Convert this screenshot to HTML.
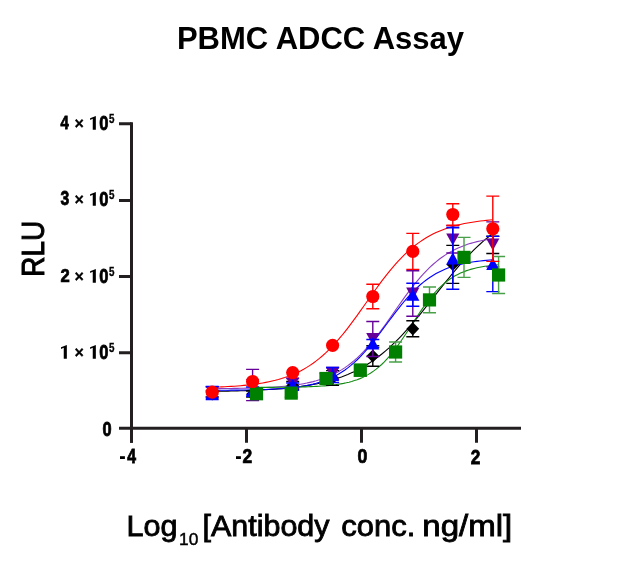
<!DOCTYPE html>
<html><head><meta charset="utf-8">
<style>
html,body{margin:0;padding:0;background:#fff;}
body{width:640px;height:561px;overflow:hidden;position:relative;}
svg{position:absolute;left:0;top:0;will-change:transform;}
.t{font-family:"Liberation Sans",sans-serif;font-weight:bold;fill:#000;}
.r{font-family:"Liberation Sans",sans-serif;font-weight:normal;fill:#000;}
</style></head><body>
<svg width="640" height="561" viewBox="0 0 640 561">
<text class="t" x="320.5" y="48.7" font-size="31" text-anchor="middle">PBMC ADCC Assay</text>
<g stroke="#231f20" stroke-width="3" fill="none">
<path d="M131.5,122.2 V442.8"/>
<path d="M119,428.2 H521"/>
<path d="M119,123.8 H131.5 M119,200.4 H131.5 M119,276.5 H131.5 M119,352.8 H131.5"/>
<path d="M131.5,428.2 V442.8 M246.5,428.2 V442.8 M361.5,428.2 V442.8 M476.5,428.2 V442.8"/>
</g>
<text class="t" transform="translate(60.53,129.38) scale(0.777,1)" font-size="19.06" stroke="#000" stroke-width="0.84">4</text>
<text class="t" transform="translate(74.41,129.26) scale(0.922,1)" font-size="17.35" stroke="#000" stroke-width="0.33">×</text>
<path d="M95.85,115.90 V129.70 H92.75 V118.80 L90.10,120.00 V118.20 Z" fill="#000"/>
<text class="t" transform="translate(99.27,129.67) scale(0.816,1)" font-size="20.21" stroke="#000" stroke-width="0.80">0</text>
<text class="t" transform="translate(109.06,123.03) scale(0.827,1)" font-size="11.86" stroke="#000" stroke-width="0.36">5</text>
<text class="t" transform="translate(60.51,205.48) scale(0.811,1)" font-size="19.37" stroke="#000" stroke-width="0.80">3</text>
<text class="t" transform="translate(74.41,205.26) scale(0.922,1)" font-size="17.35" stroke="#000" stroke-width="0.33">×</text>
<path d="M95.85,191.90 V205.70 H92.75 V194.80 L90.10,196.00 V194.20 Z" fill="#000"/>
<text class="t" transform="translate(99.27,205.67) scale(0.816,1)" font-size="20.21" stroke="#000" stroke-width="0.80">0</text>
<text class="t" transform="translate(109.06,199.03) scale(0.827,1)" font-size="11.86" stroke="#000" stroke-width="0.36">5</text>
<text class="t" transform="translate(60.53,282.38) scale(0.885,1)" font-size="18.79" stroke="#000" stroke-width="0.73">2</text>
<text class="t" transform="translate(74.41,282.26) scale(0.922,1)" font-size="17.35" stroke="#000" stroke-width="0.33">×</text>
<path d="M95.85,268.90 V282.70 H92.75 V271.80 L90.10,273.00 V271.20 Z" fill="#000"/>
<text class="t" transform="translate(99.27,282.67) scale(0.816,1)" font-size="20.21" stroke="#000" stroke-width="0.80">0</text>
<text class="t" transform="translate(109.06,276.03) scale(0.827,1)" font-size="11.86" stroke="#000" stroke-width="0.36">5</text>
<path d="M66.85,344.90 V358.70 H63.75 V347.80 L61.00,349.00 V347.20 Z" fill="#000"/>
<text class="t" transform="translate(74.41,358.26) scale(0.922,1)" font-size="17.35" stroke="#000" stroke-width="0.33">×</text>
<path d="M95.85,344.90 V358.70 H92.75 V347.80 L90.10,349.00 V347.20 Z" fill="#000"/>
<text class="t" transform="translate(99.27,358.67) scale(0.816,1)" font-size="20.21" stroke="#000" stroke-width="0.80">0</text>
<text class="t" transform="translate(109.06,352.03) scale(0.827,1)" font-size="11.86" stroke="#000" stroke-width="0.36">5</text>
<text class="t" transform="translate(102.52,435.58) scale(0.825,1)" font-size="19.86" stroke="#000" stroke-width="0.79">0</text>
<rect x="120" y="456.2" width="4.9" height="2.8" fill="#000"/>
<text class="t" transform="translate(127.21,463.48) scale(0.774,1)" font-size="20.36" stroke="#000" stroke-width="0.84">4</text>
<rect x="236" y="456.2" width="4.9" height="2.8" fill="#000"/>
<text class="t" transform="translate(242.60,463.48) scale(0.869,1)" font-size="20.07" stroke="#000" stroke-width="0.75">2</text>
<text class="t" transform="translate(357.41,463.47) scale(0.861,1)" font-size="20.63" stroke="#000" stroke-width="0.75">0</text>
<text class="t" transform="translate(470.71,463.57) scale(0.841,1)" font-size="20.50" stroke="#000" stroke-width="0.77">2</text>
<text class="r" transform="translate(44.2,248.8) rotate(-90) scale(0.9,1)" font-size="31" stroke="#000" stroke-width="1.0" text-anchor="middle">RLU</text>
<g class="r" font-size="30" stroke="#000" stroke-width="0.85">
<text x="126.5" y="535.5" textLength="51" lengthAdjust="spacingAndGlyphs">Log</text>
<text x="179.1" y="545.3" font-size="17" stroke-width="0.45" textLength="19.3" lengthAdjust="spacingAndGlyphs">10</text>
<text x="202.5" y="535.5" textLength="127" lengthAdjust="spacingAndGlyphs">[Antibody</text>
<text x="341.3" y="535.5" textLength="74" lengthAdjust="spacingAndGlyphs">conc.</text>
<text x="422.3" y="535.5" textLength="90" lengthAdjust="spacingAndGlyphs">ng/ml]</text>
</g>

<path d="M212.20,391.39 L215.35,391.34 L218.51,391.29 L221.66,391.24 L224.81,391.18 L227.96,391.11 L231.12,391.04 L234.27,390.97 L237.42,390.89 L240.58,390.80 L243.73,390.70 L246.88,390.60 L250.03,390.48 L253.19,390.36 L256.34,390.23 L259.49,390.08 L262.64,389.92 L265.80,389.75 L268.95,389.56 L272.10,389.36 L275.26,389.14 L278.41,388.91 L281.56,388.65 L284.71,388.37 L287.87,388.07 L291.02,387.74 L294.17,387.38 L297.33,387.00 L300.48,386.58 L303.63,386.13 L306.78,385.65 L309.94,385.12 L313.09,384.55 L316.24,383.94 L319.40,383.27 L322.55,382.56 L325.70,381.79 L328.85,380.95 L332.01,380.06 L335.16,379.09 L338.31,378.06 L341.47,376.95 L344.62,375.75 L347.77,374.47 L350.92,373.10 L354.08,371.64 L357.23,370.07 L360.38,368.40 L363.53,366.62 L366.69,364.73 L369.84,362.73 L372.99,360.60 L376.15,358.35 L379.30,355.97 L382.45,353.47 L385.60,350.83 L388.76,348.07 L391.91,345.18 L395.06,342.16 L398.22,339.02 L401.37,335.76 L404.52,332.38 L407.67,328.90 L410.83,325.31 L413.98,321.63 L417.13,317.86 L420.29,314.03 L423.44,310.13 L426.59,306.18 L429.74,302.19 L432.90,298.18 L436.05,294.17 L439.20,290.16 L442.36,286.16 L445.51,282.20 L448.66,278.29 L451.81,274.43 L454.97,270.65 L458.12,266.95 L461.27,263.33 L464.42,259.82 L467.58,256.42 L470.73,253.13 L473.88,249.95 L477.04,246.90 L480.19,243.98 L483.34,241.19 L486.49,238.52 L489.65,235.99 L492.80,233.58" stroke="#000000" stroke-width="1.1" fill="none"/>
<path d="M212.20,388.63 L215.35,388.61 L218.51,388.59 L221.66,388.56 L224.81,388.53 L227.96,388.49 L231.12,388.45 L234.27,388.41 L237.42,388.36 L240.58,388.30 L243.73,388.24 L246.88,388.17 L250.03,388.09 L253.19,388.00 L256.34,387.90 L259.49,387.79 L262.64,387.66 L265.80,387.52 L268.95,387.36 L272.10,387.18 L275.26,386.99 L278.41,386.76 L281.56,386.51 L284.71,386.23 L287.87,385.92 L291.02,385.56 L294.17,385.17 L297.33,384.73 L300.48,384.24 L303.63,383.69 L306.78,383.08 L309.94,382.39 L313.09,381.63 L316.24,380.79 L319.40,379.85 L322.55,378.81 L325.70,377.66 L328.85,376.38 L332.01,374.98 L335.16,373.43 L338.31,371.73 L341.47,369.87 L344.62,367.84 L347.77,365.62 L350.92,363.22 L354.08,360.62 L357.23,357.82 L360.38,354.82 L363.53,351.62 L366.69,348.22 L369.84,344.62 L372.99,340.84 L376.15,336.89 L379.30,332.78 L382.45,328.55 L385.60,324.20 L388.76,319.77 L391.91,315.29 L395.06,310.78 L398.22,306.28 L401.37,301.82 L404.52,297.43 L407.67,293.13 L410.83,288.95 L413.98,284.91 L417.13,281.04 L420.29,277.34 L423.44,273.83 L426.59,270.52 L429.74,267.41 L432.90,264.51 L436.05,261.80 L439.20,259.29 L442.36,256.98 L445.51,254.85 L448.66,252.90 L451.81,251.11 L454.97,249.48 L458.12,248.00 L461.27,246.66 L464.42,245.44 L467.58,244.34 L470.73,243.35 L473.88,242.45 L477.04,241.65 L480.19,240.93 L483.34,240.28 L486.49,239.69 L489.65,239.17 L492.80,238.70" stroke="#8a3cc0" stroke-width="1.1" fill="none"/>
<path d="M212.20,390.27 L215.35,390.26 L218.51,390.24 L221.66,390.22 L224.81,390.20 L227.96,390.18 L231.12,390.15 L234.27,390.12 L237.42,390.08 L240.58,390.04 L243.73,389.99 L246.88,389.94 L250.03,389.88 L253.19,389.81 L256.34,389.74 L259.49,389.65 L262.64,389.55 L265.80,389.43 L268.95,389.31 L272.10,389.16 L275.26,388.99 L278.41,388.81 L281.56,388.59 L284.71,388.35 L287.87,388.08 L291.02,387.77 L294.17,387.41 L297.33,387.02 L300.48,386.57 L303.63,386.06 L306.78,385.49 L309.94,384.85 L313.09,384.12 L316.24,383.31 L319.40,382.39 L322.55,381.37 L325.70,380.22 L328.85,378.95 L332.01,377.53 L335.16,375.96 L338.31,374.21 L341.47,372.30 L344.62,370.19 L347.77,367.88 L350.92,365.38 L354.08,362.66 L357.23,359.73 L360.38,356.59 L363.53,353.25 L366.69,349.72 L369.84,346.00 L372.99,342.13 L376.15,338.11 L379.30,333.99 L382.45,329.79 L385.60,325.54 L388.76,321.29 L391.91,317.05 L395.06,312.88 L398.22,308.80 L401.37,304.84 L404.52,301.02 L407.67,297.38 L410.83,293.92 L413.98,290.65 L417.13,287.60 L420.29,284.76 L423.44,282.12 L426.59,279.69 L429.74,277.47 L432.90,275.44 L436.05,273.59 L439.20,271.92 L442.36,270.41 L445.51,269.05 L448.66,267.83 L451.81,266.73 L454.97,265.75 L458.12,264.88 L461.27,264.10 L464.42,263.41 L467.58,262.79 L470.73,262.25 L473.88,261.77 L477.04,261.34 L480.19,260.96 L483.34,260.63 L486.49,260.33 L489.65,260.07 L492.80,259.84" stroke="#0000ff" stroke-width="1.1" fill="none"/>
<path d="M256.50,387.40 L259.22,387.39 L261.94,387.38 L264.66,387.37 L267.38,387.36 L270.10,387.35 L272.82,387.33 L275.54,387.31 L278.26,387.29 L280.98,387.27 L283.70,387.24 L286.42,387.21 L289.14,387.18 L291.86,387.14 L294.58,387.09 L297.30,387.04 L300.02,386.98 L302.74,386.91 L305.46,386.83 L308.18,386.74 L310.90,386.63 L313.62,386.52 L316.34,386.38 L319.07,386.22 L321.79,386.05 L324.51,385.85 L327.23,385.62 L329.95,385.35 L332.67,385.05 L335.39,384.71 L338.11,384.32 L340.83,383.88 L343.55,383.38 L346.27,382.81 L348.99,382.16 L351.71,381.43 L354.43,380.60 L357.15,379.67 L359.87,378.62 L362.59,377.44 L365.31,376.11 L368.03,374.63 L370.75,372.99 L373.47,371.16 L376.19,369.14 L378.91,366.92 L381.63,364.49 L384.35,361.84 L387.07,358.97 L389.79,355.88 L392.51,352.58 L395.23,349.08 L397.95,345.39 L400.67,341.53 L403.39,337.54 L406.11,333.44 L408.83,329.27 L411.55,325.06 L414.27,320.85 L416.99,316.69 L419.71,312.60 L422.43,308.62 L425.15,304.79 L427.87,301.13 L430.59,297.65 L433.31,294.38 L436.03,291.32 L438.76,288.48 L441.48,285.86 L444.20,283.45 L446.92,281.26 L449.64,279.27 L452.36,277.47 L455.08,275.84 L457.80,274.39 L460.52,273.08 L463.24,271.92 L465.96,270.88 L468.68,269.97 L471.40,269.15 L474.12,268.43 L476.84,267.80 L479.56,267.24 L482.28,266.74 L485.00,266.31 L487.72,265.92 L490.44,265.59 L493.16,265.29 L495.88,265.04 L498.60,264.81" stroke="#108a10" stroke-width="1.1" fill="none"/>
<path d="M212.20,387.27 L215.35,387.16 L218.51,387.03 L221.66,386.89 L224.81,386.74 L227.96,386.57 L231.12,386.38 L234.27,386.18 L237.42,385.94 L240.58,385.69 L243.73,385.41 L246.88,385.09 L250.03,384.75 L253.19,384.37 L256.34,383.94 L259.49,383.48 L262.64,382.96 L265.80,382.39 L268.95,381.77 L272.10,381.08 L275.26,380.32 L278.41,379.48 L281.56,378.56 L284.71,377.56 L287.87,376.46 L291.02,375.25 L294.17,373.93 L297.33,372.49 L300.48,370.93 L303.63,369.22 L306.78,367.38 L309.94,365.38 L313.09,363.22 L316.24,360.90 L319.40,358.40 L322.55,355.73 L325.70,352.88 L328.85,349.85 L332.01,346.64 L335.16,343.26 L338.31,339.70 L341.47,335.98 L344.62,332.10 L347.77,328.09 L350.92,323.94 L354.08,319.69 L357.23,315.35 L360.38,310.94 L363.53,306.49 L366.69,302.02 L369.84,297.55 L372.99,293.11 L376.15,288.72 L379.30,284.41 L382.45,280.19 L385.60,276.09 L388.76,272.12 L391.91,268.29 L395.06,264.63 L398.22,261.13 L401.37,257.80 L404.52,254.66 L407.67,251.69 L410.83,248.90 L413.98,246.29 L417.13,243.86 L420.29,241.59 L423.44,239.49 L426.59,237.54 L429.74,235.75 L432.90,234.09 L436.05,232.57 L439.20,231.17 L442.36,229.89 L445.51,228.72 L448.66,227.65 L451.81,226.68 L454.97,225.79 L458.12,224.98 L461.27,224.25 L464.42,223.58 L467.58,222.97 L470.73,222.42 L473.88,221.93 L477.04,221.48 L480.19,221.07 L483.34,220.70 L486.49,220.36 L489.65,220.06 L492.80,219.79" stroke="#ff0000" stroke-width="1.1" fill="none"/>
<path d="M212.20,391.00 V397.00 M205.70,391.00 H218.70 M205.70,397.00 H218.70" stroke="#000000" stroke-width="1.4" fill="none"/>
<path d="M252.60,391.00 V397.00 M246.10,391.00 H259.10 M246.10,397.00 H259.10" stroke="#000000" stroke-width="1.4" fill="none"/>
<path d="M292.70,381.50 V389.50 M286.20,381.50 H299.20 M286.20,389.50 H299.20" stroke="#000000" stroke-width="1.4" fill="none"/>
<path d="M332.60,370.60 V385.40 M326.10,370.60 H339.10 M326.10,385.40 H339.10" stroke="#000000" stroke-width="1.4" fill="none"/>
<path d="M372.80,345.80 V366.20 M366.30,345.80 H379.30 M366.30,366.20 H379.30" stroke="#000000" stroke-width="1.4" fill="none"/>
<path d="M412.80,320.80 V336.80 M406.30,320.80 H419.30 M406.30,336.80 H419.30" stroke="#000000" stroke-width="1.4" fill="none"/>
<path d="M452.80,245.40 V283.40 M446.30,245.40 H459.30 M446.30,283.40 H459.30" stroke="#000000" stroke-width="1.4" fill="none"/>
<path d="M492.80,236.30 V253.50 M486.30,236.30 H499.30 M486.30,253.50 H499.30" stroke="#000000" stroke-width="1.4" fill="none"/>
<path d="M212.20,387.40 L218.60,394.00 L212.20,400.60 L205.80,394.00Z" fill="#000000"/>
<path d="M252.60,387.40 L259.00,394.00 L252.60,400.60 L246.20,394.00Z" fill="#000000"/>
<path d="M292.70,378.90 L299.10,385.50 L292.70,392.10 L286.30,385.50Z" fill="#000000"/>
<path d="M332.60,371.40 L339.00,378.00 L332.60,384.60 L326.20,378.00Z" fill="#000000"/>
<path d="M372.80,349.40 L379.20,356.00 L372.80,362.60 L366.40,356.00Z" fill="#000000"/>
<path d="M412.80,322.20 L419.20,328.80 L412.80,335.40 L406.40,328.80Z" fill="#000000"/>
<path d="M452.80,257.80 L459.20,264.40 L452.80,271.00 L446.40,264.40Z" fill="#000000"/>
<path d="M212.20,387.00 V397.00 M205.70,387.00 H218.70 M205.70,397.00 H218.70" stroke="#660099" stroke-width="1.4" fill="none"/>
<path d="M252.60,369.40 V400.60 M246.10,369.40 H259.10 M246.10,400.60 H259.10" stroke="#660099" stroke-width="1.4" fill="none"/>
<path d="M292.70,378.50 V388.50 M286.20,378.50 H299.20 M286.20,388.50 H299.20" stroke="#660099" stroke-width="1.4" fill="none"/>
<path d="M332.60,367.50 V379.50 M326.10,367.50 H339.10 M326.10,379.50 H339.10" stroke="#660099" stroke-width="1.4" fill="none"/>
<path d="M372.80,321.50 V356.50 M366.30,321.50 H379.30 M366.30,356.50 H379.30" stroke="#660099" stroke-width="1.4" fill="none"/>
<path d="M412.80,270.80 V316.20 M406.30,270.80 H419.30 M406.30,316.20 H419.30" stroke="#660099" stroke-width="1.4" fill="none"/>
<path d="M452.80,225.80 V253.00 M446.30,225.80 H459.30 M446.30,253.00 H459.30" stroke="#660099" stroke-width="1.4" fill="none"/>
<path d="M492.80,221.90 V266.90 M486.30,221.90 H499.30 M486.30,266.90 H499.30" stroke="#660099" stroke-width="1.4" fill="none"/>
<path d="M205.60,386.00 L218.80,386.00 L212.20,398.20Z" fill="#660099"/>
<path d="M246.00,379.00 L259.20,379.00 L252.60,391.20Z" fill="#660099"/>
<path d="M286.10,377.50 L299.30,377.50 L292.70,389.70Z" fill="#660099"/>
<path d="M326.00,367.50 L339.20,367.50 L332.60,379.70Z" fill="#660099"/>
<path d="M366.20,333.00 L379.40,333.00 L372.80,345.20Z" fill="#660099"/>
<path d="M406.20,287.50 L419.40,287.50 L412.80,299.70Z" fill="#660099"/>
<path d="M446.20,233.40 L459.40,233.40 L452.80,245.60Z" fill="#660099"/>
<path d="M486.20,238.40 L499.40,238.40 L492.80,250.60Z" fill="#660099"/>
<path d="M212.20,386.50 V399.50 M205.70,386.50 H218.70 M205.70,399.50 H218.70" stroke="#0000ff" stroke-width="1.4" fill="none"/>
<path d="M252.60,387.00 V395.00 M246.10,387.00 H259.10 M246.10,395.00 H259.10" stroke="#0000ff" stroke-width="1.4" fill="none"/>
<path d="M292.70,383.00 V387.00 M286.20,383.00 H299.20 M286.20,387.00 H299.20" stroke="#0000ff" stroke-width="1.4" fill="none"/>
<path d="M332.60,367.50 V382.50 M326.10,367.50 H339.10 M326.10,382.50 H339.10" stroke="#0000ff" stroke-width="1.4" fill="none"/>
<path d="M372.80,339.50 V347.50 M366.30,339.50 H379.30 M366.30,347.50 H379.30" stroke="#0000ff" stroke-width="1.4" fill="none"/>
<path d="M412.80,283.20 V306.20 M406.30,283.20 H419.30 M406.30,306.20 H419.30" stroke="#0000ff" stroke-width="1.4" fill="none"/>
<path d="M452.80,227.80 V289.20 M446.30,227.80 H459.30 M446.30,289.20 H459.30" stroke="#0000ff" stroke-width="1.4" fill="none"/>
<path d="M492.80,236.40 V291.60 M486.30,236.40 H499.30 M486.30,291.60 H499.30" stroke="#0000ff" stroke-width="1.4" fill="none"/>
<path d="M212.20,386.80 L218.80,399.00 L205.60,399.00Z" fill="#0000ff"/>
<path d="M252.60,384.80 L259.20,397.00 L246.00,397.00Z" fill="#0000ff"/>
<path d="M292.70,378.80 L299.30,391.00 L286.10,391.00Z" fill="#0000ff"/>
<path d="M332.60,368.80 L339.20,381.00 L326.00,381.00Z" fill="#0000ff"/>
<path d="M372.80,337.30 L379.40,349.50 L366.20,349.50Z" fill="#0000ff"/>
<path d="M412.80,288.50 L419.40,300.70 L406.20,300.70Z" fill="#0000ff"/>
<path d="M452.80,252.30 L459.40,264.50 L446.20,264.50Z" fill="#0000ff"/>
<path d="M492.80,257.80 L499.40,270.00 L486.20,270.00Z" fill="#0000ff"/>
<path d="M256.50,390.75 V396.75 M250.00,390.75 H263.00 M250.00,396.75 H263.00" stroke="#48a048" stroke-width="1.4" fill="none"/>
<path d="M291.20,389.10 V397.10 M284.70,389.10 H297.70 M284.70,397.10 H297.70" stroke="#48a048" stroke-width="1.4" fill="none"/>
<path d="M326.00,373.50 V383.50 M319.50,373.50 H332.50 M319.50,383.50 H332.50" stroke="#48a048" stroke-width="1.4" fill="none"/>
<path d="M360.30,364.20 V376.20 M353.80,364.20 H366.80 M353.80,376.20 H366.80" stroke="#48a048" stroke-width="1.4" fill="none"/>
<path d="M395.60,342.00 V362.00 M389.10,342.00 H402.10 M389.10,362.00 H402.10" stroke="#48a048" stroke-width="1.4" fill="none"/>
<path d="M429.50,287.00 V312.80 M423.00,287.00 H436.00 M423.00,312.80 H436.00" stroke="#48a048" stroke-width="1.4" fill="none"/>
<path d="M464.00,237.40 V277.40 M457.50,237.40 H470.50 M457.50,277.40 H470.50" stroke="#48a048" stroke-width="1.4" fill="none"/>
<path d="M498.60,256.50 V293.50 M492.10,256.50 H505.10 M492.10,293.50 H505.10" stroke="#48a048" stroke-width="1.4" fill="none"/>
<rect x="249.90" y="387.15" width="13.2" height="13.2" fill="#008000"/>
<rect x="284.60" y="386.50" width="13.2" height="13.2" fill="#008000"/>
<rect x="319.40" y="371.90" width="13.2" height="13.2" fill="#008000"/>
<rect x="353.70" y="363.60" width="13.2" height="13.2" fill="#008000"/>
<rect x="389.00" y="345.40" width="13.2" height="13.2" fill="#008000"/>
<rect x="422.90" y="293.30" width="13.2" height="13.2" fill="#008000"/>
<rect x="457.40" y="250.80" width="13.2" height="13.2" fill="#008000"/>
<rect x="492.00" y="268.40" width="13.2" height="13.2" fill="#008000"/>
<path d="M372.80,284.20 V308.80 M366.30,284.20 H379.30 M366.30,308.80 H379.30" stroke="#ff0000" stroke-width="1.4" fill="none"/>
<path d="M412.80,233.40 V269.40 M406.30,233.40 H419.30 M406.30,269.40 H419.30" stroke="#ff0000" stroke-width="1.4" fill="none"/>
<path d="M452.80,203.80 V225.20 M446.30,203.80 H459.30 M446.30,225.20 H459.30" stroke="#ff0000" stroke-width="1.4" fill="none"/>
<path d="M492.80,196.15 V261.35 M486.30,196.15 H499.30 M486.30,261.35 H499.30" stroke="#ff0000" stroke-width="1.4" fill="none"/>
<circle cx="212.20" cy="392.20" r="6.6" fill="#ff0000"/>
<circle cx="252.60" cy="381.50" r="6.6" fill="#ff0000"/>
<circle cx="292.70" cy="372.60" r="6.6" fill="#ff0000"/>
<circle cx="332.60" cy="345.30" r="6.6" fill="#ff0000"/>
<circle cx="372.80" cy="296.50" r="6.6" fill="#ff0000"/>
<circle cx="412.80" cy="251.40" r="6.6" fill="#ff0000"/>
<circle cx="452.80" cy="214.50" r="6.6" fill="#ff0000"/>
<circle cx="492.80" cy="228.75" r="6.6" fill="#ff0000"/>
</svg>
</body></html>
